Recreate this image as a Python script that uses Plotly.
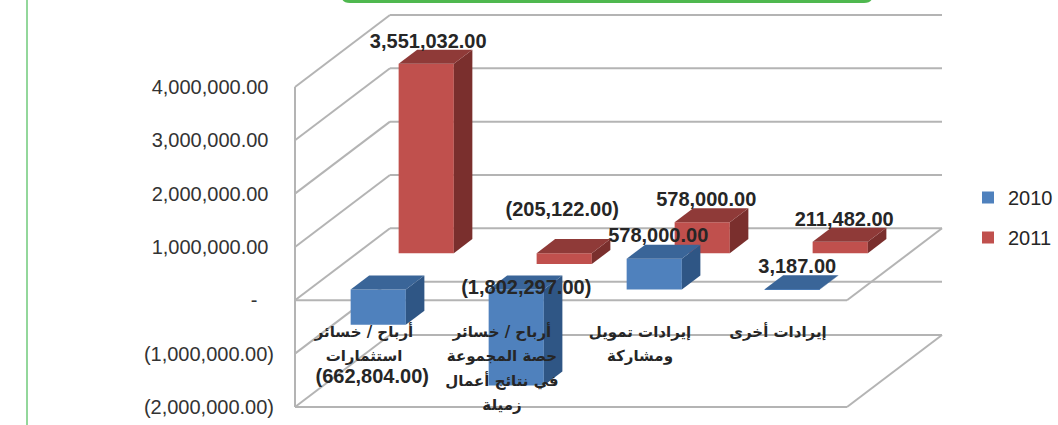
import plotly.graph_objects as go

# ---------- data ----------
categories = [
    "أرباح / خسائر<br>استثمارات",
    "أرباح / خسائر<br>حصة المجموعة<br>في نتائج أعمال<br>زميلة",
    "إيرادات تمويل<br>ومشاركة",
    "إيرادات أخرى",
]
values_2010 = [-662804, -1802297, 578000, 3187]
values_2011 = [3551032, -205122, 578000, 211482]
y_ticks = [4000000, 3000000, 2000000, 1000000, 0, -1000000, -2000000]
y_tick_labels = [
    "4,000,000.00\u00a0", "3,000,000.00\u00a0", "2,000,000.00\u00a0", "1,000,000.00\u00a0",
    "-\u00a0\u00a0\u00a0", "(1,000,000.00)", "(2,000,000.00)",
]

# ---------- geometry / style ----------
W, H = 1058, 425
PX_X = 138.0          # pixels per category
PX_Y = 53.33 / 1e6    # pixels per value unit
X0_PX, Y0_PX = 295.0, 300.3
DEPTH_X, DEPTH_Y = 95 / PX_X, 72 / PX_Y   # full floor depth in axis units
BAR_W = 0.4
BAR_D = 0.195
D_2010, D_2011 = 0.15, 0.655
FONT = "Liberation Sans"
GRID = "#b4b4b4"
TXT = "#262626"
CAT_FIRST_LINE_PX = 333
CAT_PITCH_PX = 24.5

C_2010 = dict(front="#4f81bd", top="#3a6598", side="#2f5685")
C_2011 = dict(front="#c0504d", top="#8f3a38", side="#7a2f2d")

# pixel nudges of the data labels from the end of each bar's front face
NUDGE_2010 = [(-6, 53), (10, -97), (4, -22), (5, -21)]
NUDGE_2011 = [(2, -21), (-2, -53), (4, -21), (4, -21)]

x_range = [-X0_PX / PX_X, (W - X0_PX) / PX_X]
y_range = [-(H - Y0_PX) / PX_Y, Y0_PX / PX_Y]


def fmt(v):
    return f"({abs(v):,.2f})" if v < 0 else f"{v:,.2f}"


fig = go.Figure()


def add_front(name, vals, d, col):
    fig.add_bar(
        name=name,
        x=[i + 0.5 + d * DEPTH_X for i in range(len(vals))],
        y=vals,
        base=[d * DEPTH_Y] * len(vals),
        width=BAR_W,
        marker=dict(color=col["front"], line=dict(width=0)),
        legendgroup=name,
        hoverinfo="skip",
    )


def add_faces(vals, d, col):
    for i, v in enumerate(vals):
        xl = i + 0.5 - BAR_W / 2 + d * DEPTH_X
        xr = xl + BAR_W
        base = d * DEPTH_Y
        top = base + max(v, 0)
        bot = base + min(v, 0)
        ddx, ddy = BAR_D * DEPTH_X, BAR_D * DEPTH_Y
        fig.add_scatter(
            x=[xr, xr + ddx, xr + ddx, xr, xr],
            y=[bot, bot + ddy, top + ddy, top, bot],
            fill="toself", mode="none", fillcolor=col["side"],
            showlegend=False, hoverinfo="skip",
        )
        fig.add_scatter(
            x=[xl, xl + ddx, xr + ddx, xr, xl],
            y=[top, top + ddy, top + ddy, top, top],
            fill="toself", mode="none", fillcolor=col["top"],
            showlegend=False, hoverinfo="skip",
        )


def add_labels(vals, d, nudge):
    xs, ys = [], []
    for i, v in enumerate(vals):
        xs.append(i + 0.5 + d * DEPTH_X + nudge[i][0] / PX_X)
        ys.append(d * DEPTH_Y + v - nudge[i][1] / PX_Y)
    fig.add_scatter(
        x=xs, y=ys, mode="text", text=[fmt(v) for v in vals],
        textposition="middle center",
        textfont=dict(family=FONT, size=20, color=TXT, weight="bold"),
        showlegend=False, hoverinfo="skip",
    )


add_front("2010", values_2010, D_2010, C_2010)
add_front("2011", values_2011, D_2011, C_2011)
add_faces(values_2011, D_2011, C_2011)
add_faces(values_2010, D_2010, C_2010)

# category labels, one text point per wrapped line (the wide line spacing of the original)
cx, cy, ct = [], [], []
for i, c in enumerate(categories):
    for j, line in enumerate(c.split("<br>")):
        cx.append(i + 0.5)
        cy.append((Y0_PX - CAT_FIRST_LINE_PX - j * CAT_PITCH_PX) / PX_Y)
        ct.append(line)
fig.add_scatter(
    x=cx, y=cy, mode="text", text=ct, textposition="middle center",
    textfont=dict(family="DejaVu Sans", size=15, color=TXT, weight="bold"),
    showlegend=False, hoverinfo="skip",
)

add_labels(values_2011, D_2011, NUDGE_2011)
add_labels(values_2010, D_2010, NUDGE_2010)

# ---------- 3-D walls and floors ----------
n = len(categories)
shapes = []


def seg(x0, y0, x1, y1):
    shapes.append(dict(type="line", xref="x", yref="y", x0=x0, y0=y0, x1=x1, y1=y1,
                       layer="below", line=dict(color=GRID, width=2)))


for t in y_ticks:
    seg(0, t, DEPTH_X, t + DEPTH_Y)
    seg(DEPTH_X, t + DEPTH_Y, n + DEPTH_X, t + DEPTH_Y)
for t in (0, min(y_ticks)):
    seg(0, t, n, t)
    seg(n, t, n + DEPTH_X, t + DEPTH_Y)
seg(0, min(y_ticks), 0, max(y_ticks))


# decorations of the surrounding page
def fx(p):
    return p / W


def fy(p):
    return 1 - p / H


shapes.append(dict(type="line", xref="paper", yref="paper", x0=fx(27), x1=fx(27), y0=0, y1=1,
                   line=dict(color="#93d79b", width=2)))
r = 7
path = (f"M {fx(343)},{fy(-4)} Q {fx(343)},{fy(1.5)} {fx(343 + r)},{fy(1.5)} "
        f"L {fx(871 - r)},{fy(1.5)} Q {fx(871)},{fy(1.5)} {fx(871)},{fy(-4)}")
shapes.append(dict(type="path", xref="paper", yref="paper", path=path,
                   line=dict(color="#4fb84f", width=3)))

fig.update_layout(
    width=W, height=H,
    margin=dict(l=0, r=0, t=0, b=0, autoexpand=False),
    paper_bgcolor="white", plot_bgcolor="white",
    barmode="overlay",
    shapes=shapes,
    showlegend=True,
    legend=dict(
        x=968 / W, y=1 - 178 / H, xanchor="left", yanchor="top",
        font=dict(family=FONT, size=20, color=TXT),
        tracegroupgap=11, itemsizing="constant", bgcolor="rgba(0,0,0,0)",
    ),
    xaxis=dict(
        range=x_range, domain=[0, 1], anchor="free", position=0,
        showticklabels=False, showgrid=False, zeroline=False, showline=False, ticks="",
    ),
    yaxis=dict(
        range=y_range, domain=[0, 1], anchor="free", position=295 / W,
        tickmode="array", tickvals=y_ticks, ticktext=y_tick_labels,
        showgrid=False, zeroline=False, showline=False, ticks="",
        ticklabelstandoff=21,
        tickfont=dict(family=FONT, size=20, color="#333333"),
    ),
)

fig.write_html("out.html", config=dict(displayModeBar=False),
               post_script="document.body.style.margin='0';")
